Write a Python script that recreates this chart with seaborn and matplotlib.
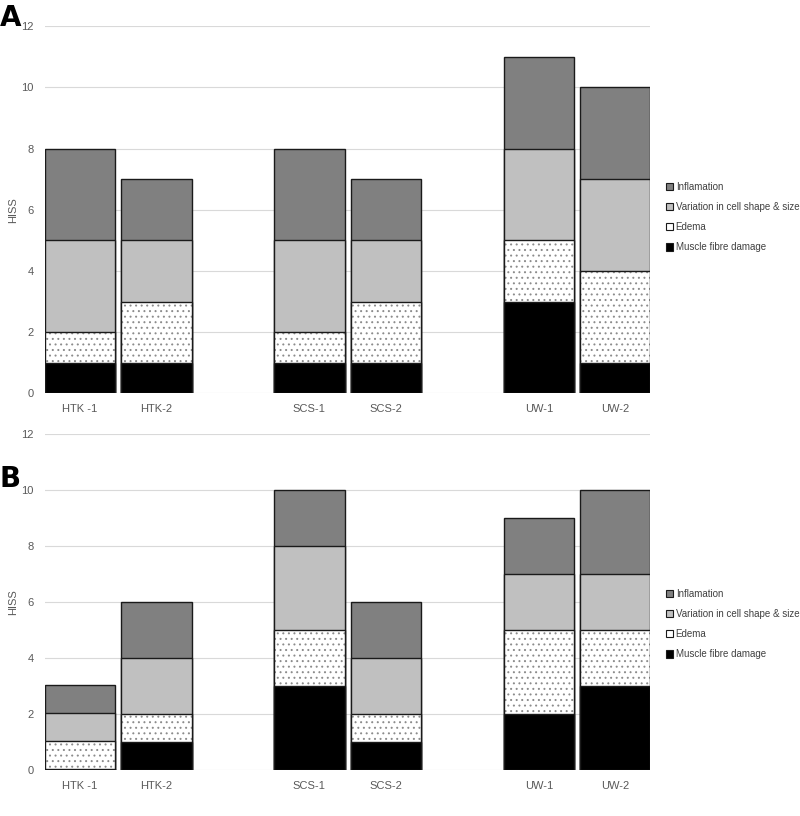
import numpy as np
import pandas as pd
import matplotlib
matplotlib.use("Agg")
import matplotlib.pyplot as plt
from matplotlib.patches import Patch
import seaborn as sns

# datos
samples = ["HTK -1", "HTK-2", "SCS-1", "SCS-2", "UW-1", "UW-2"]
positions = [0, 1, 3, 4, 6, 7]
layers = ["Muscle fibre damage", "Edema", "Variation in cell shape & size", "Inflamation"]

muscle_a = [1, 1, 1, 1, 3, 1]
edema_a = [1, 2, 1, 2, 2, 3]
variation_a = [3, 2, 3, 2, 3, 3]
inflam_a = [3, 2, 3, 2, 3, 3]

muscle_b = [0.05, 1, 3, 1, 2, 3]
edema_b = [1, 1, 2, 1, 3, 2]
variation_b = [1, 2, 3, 2, 2, 2]
inflam_b = [1, 2, 2, 2, 2, 3]

colores = {"Inflamation": "#808080",
           "Variation in cell shape & size": "#c0c0c0",
           "Edema": "white",
           "Muscle fibre damage": "black"}

plt.rcParams["hatch.linewidth"] = 0.7
fuente = ["Liberation Sans", "DejaVu Sans"]


def panel_apilado(ax, muscle, edema, variation, inflam, leg_y):
    df = pd.DataFrame({"pos": positions, "muscle": muscle, "edema": edema,
                       "variation": variation, "inflam": inflam})
    df["c1"] = df["muscle"]
    df["c2"] = df["c1"] + df["edema"]
    df["c3"] = df["c2"] + df["variation"]
    df["c4"] = df["c3"] + df["inflam"]

    comunes = dict(native_scale=True, width=0.92, errorbar=None, saturation=1, ax=ax)
    # barras acumuladas, de la mayor a la menor
    sns.barplot(x=df["pos"], y=df["c4"], color=colores["Inflamation"],
                edgecolor="#1a1a1a", linewidth=1, **comunes)
    sns.barplot(x=df["pos"], y=df["c3"], color=colores["Variation in cell shape & size"],
                edgecolor="#1a1a1a", linewidth=1, **comunes)
    sns.barplot(x=df["pos"], y=df["c2"], color="white", edgecolor="#8c8c8c",
                linewidth=0, hatch="...", **comunes)
    sns.barplot(x=df["pos"], y=df["c2"], fill=False, edgecolor="#1a1a1a",
                linewidth=1, **comunes)
    sns.barplot(x=df["pos"], y=df["c1"], color="black",
                edgecolor="#1a1a1a", linewidth=1, **comunes)

    ax.set_xlim(-0.46, 7.46)
    ax.set_ylim(0, 12)
    ax.set_yticks(np.arange(0, 13, 2))
    ax.set_xticks(positions)
    ax.set_xticklabels(samples, family=fuente, fontsize=8, color="#595959")
    for lab in ax.get_yticklabels():
        lab.set_family(fuente)
        lab.set_fontsize(8)
        lab.set_color("#595959")
    ax.tick_params(length=0, pad=8)
    ax.grid(axis="y", color="#d9d9d9", linewidth=0.8)
    ax.set_axisbelow(True)
    for s in ax.spines.values():
        s.set_visible(False)
    ax.set_xlabel("")
    ax.set_ylabel("HISS", family=fuente, fontsize=8, color="#595959", labelpad=2)

    handles = [Patch(facecolor=colores[n], edgecolor="#1a1a1a", linewidth=0.8)
               for n in reversed(layers)]
    leg = ax.legend(handles, list(reversed(layers)), loc="center left",
                    bbox_to_anchor=(1.025, leg_y), frameon=False, handlelength=0.75,
                    handleheight=0.75, handletextpad=0.3, labelspacing=1.05,
                    borderaxespad=0, borderpad=0,
                    prop={"family": fuente, "size": 7})
    for t in leg.get_texts():
        t.set_color("#404040")


fig = plt.figure(figsize=(8, 8.16), dpi=100)
ax_a = fig.add_axes([0.056, 0.518, 0.757, 0.45])
ax_b = fig.add_axes([0.056, 0.056, 0.757, 0.412])

panel_apilado(ax_a, muscle_a, edema_a, variation_a, inflam_a, 0.48)
panel_apilado(ax_b, muscle_b, edema_b, variation_b, inflam_b, 0.435)

fig.text(0.0, 0.995, "A", fontsize=20, fontweight="bold", va="top", ha="left")
fig.text(0.0, 0.430, "B", fontsize=20, fontweight="bold", va="top", ha="left")

fig.savefig("out.png", dpi=100)
